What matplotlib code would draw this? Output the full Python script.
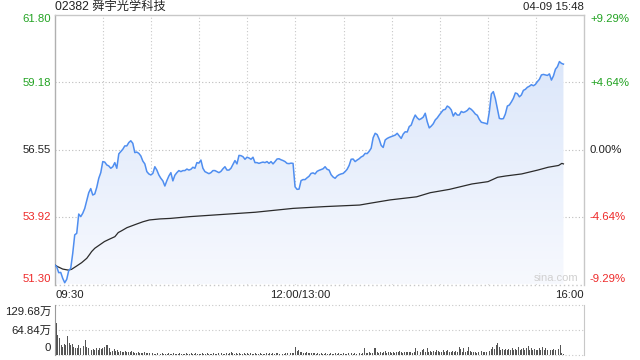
import numpy as np
import matplotlib
matplotlib.use("Agg")
import matplotlib.pyplot as plt
from matplotlib.colors import LinearSegmentedColormap
from matplotlib.patches import Polygon

plt.rcParams['font.family'] = ['Liberation Sans', 'Noto Sans CJK SC', 'DejaVu Sans']

title = "02382 舜宇光学科技"
stamp = "04-09 15:48"
prev_close = 56.55
price_ticks = [61.80, 59.18, 56.55, 53.92, 51.30]
pct_ticks = ["+9.29%", "+4.64%", "0.00%", "-4.64%", "-9.29%"]
time_labels = ["09:30", "12:00/13:00", "16:00"]
vol_ticks = [129.68, 64.84, 0]
vol_tick_labels = ["129.68万", "64.84万", "0"]

price = [
    52.06, 51.99, 51.76, 51.77, 51.54, 51.37, 51.50, 51.84, 51.93, 52.51, 53.23, 53.29,
    54.04, 53.94, 54.07, 54.26, 54.56, 54.87, 55.03, 54.78, 54.82, 55.08, 55.43, 55.65,
    56.08, 56.06, 55.95, 55.91, 55.82, 55.88, 56.04, 55.82, 56.38, 56.47, 56.56, 56.69,
    56.69, 56.82, 56.89, 56.79, 56.43, 56.45, 56.40, 56.30, 56.10, 55.99, 55.69, 55.60,
    55.56, 55.62, 55.88, 55.75, 55.56, 55.43, 55.33, 55.13, 55.34, 55.52, 55.65, 55.33,
    55.55, 55.65, 55.73, 55.69, 55.73, 55.73, 55.79, 55.75,
    55.78, 55.86, 55.82, 56.04, 56.02, 56.14, 55.82, 55.69, 55.65, 55.61, 55.65, 55.73,
    55.73, 55.69, 55.65, 55.70, 55.80, 55.88, 55.75, 55.75, 55.82, 55.97, 56.12, 55.99,
    56.32, 56.31, 56.27, 56.17, 56.25, 56.22, 56.17, 56.25, 56.04, 56.04, 56.01, 56.04,
    56.06, 56.04, 56.08, 56.01, 56.08, 55.99, 56.08, 56.18, 56.19, 56.15, 56.12, 56.08,
    56.01, 56.00, 56.02, 56.01, 55.10, 55.00, 55.01, 55.34, 55.38, 55.38, 55.45, 55.51,
    55.62, 55.64, 55.60, 55.70, 55.74, 55.77, 55.80,
    55.88, 55.78, 55.75, 55.57, 55.48, 55.43, 55.52, 55.57, 55.60, 55.62, 55.69, 55.78,
    55.93, 56.17, 56.18, 56.08, 56.14, 56.19, 56.26, 56.30, 56.40, 56.39, 56.48, 56.60,
    57.01, 57.18, 57.13, 56.95, 56.71, 56.63, 56.92, 56.98, 57.02, 57.05, 57.08, 57.11,
    57.18, 57.08, 56.98, 57.15, 57.24, 57.23, 57.44, 57.50, 57.72, 57.89, 57.78, 57.71,
    57.75, 57.81, 57.96, 57.63, 57.39, 57.46, 57.55, 57.70, 57.78, 57.89, 57.99, 58.09,
    58.11, 58.24, 58.19, 58.09, 57.85, 57.98, 57.89, 57.89,
    58.03, 57.99, 58.02, 58.07, 58.16, 58.11, 58.03, 57.93, 57.88, 57.72, 57.61, 57.59,
    57.57, 57.54, 58.02, 58.71, 58.80, 58.53, 58.15, 57.76, 57.74, 57.75, 57.93, 58.24,
    58.28, 58.40, 58.54, 58.75, 58.72, 58.60, 58.67, 58.85, 58.89, 58.97, 59.01, 59.07,
    59.03, 59.08, 59.19, 59.28, 59.45, 59.47, 59.45, 59.43, 59.49, 59.25, 59.41, 59.67,
    59.77, 59.97, 59.90, 59.87,
]
price_end_minute = 317

avg_minutes = [0, 2, 5, 8.5, 10.5, 13.7, 16.8, 20, 22, 23, 25, 28, 31, 34, 37.5, 39.6,
               41.7, 45, 48, 51, 55, 59, 65.5, 72, 84.4, 125, 148.5, 168.4, 190, 196.5,
               209, 225.5, 234, 246, 260, 270, 276, 281, 291, 297, 301, 307.5, 314, 316, 317]
avg_price = [52.06, 51.99, 51.90, 51.86, 51.89, 52.02, 52.15, 52.32, 52.49, 52.58, 52.71,
             52.84, 52.97, 53.06, 53.16, 53.32, 53.39, 53.51, 53.58, 53.65, 53.74, 53.81,
             53.85, 53.87, 53.94, 54.11, 54.26, 54.33, 54.39, 54.46, 54.59, 54.71, 54.87,
             55.00, 55.21, 55.30, 55.47, 55.52, 55.60, 55.69, 55.75, 55.86, 55.93, 56.01, 55.99]

# per-minute volume (万), minute 0 = 09:30
volume = [
    129.7, 82, 52, 43, 26, 22, 28, 26, 49, 30,
    26, 28, 22, 19, 17, 26, 17, 28, 24, 39,
    22, 17, 16, 13, 16, 13, 17, 14, 17, 15,
    19, 22, 26, 26, 19, 9, 10, 16, 10, 12,
    9, 10, 7, 9, 10, 7, 8, 9, 11, 8,
    6, 5, 7, 4, 6, 5, 8, 4, 5, 6,
    3, 4, 2, 3, 5, 3, 2, 4, 3, 2,
    3, 4, 2, 3, 5, 2, 3, 2, 4, 3,
    2, 3, 4, 2, 3, 6, 3, 2, 4, 3,
    2, 3, 5, 3, 2, 4, 3, 2, 3, 4,
    3, 2, 4, 3, 5, 3, 2, 4, 3, 6,
    8, 4, 3, 5, 3, 4, 2, 3, 4, 3,
    5, 3, 4, 2, 3, 4, 3, 2, 4, 3,
    2, 3, 4, 3, 5, 3, 4, 2, 6, 4,
    3, 4, 2, 3, 5, 4, 3, 6, 4, 5,
    22, 10, 12, 8, 9, 6, 5, 8, 4, 6,
    5, 4, 6, 3, 5, 3, 4, 2, 3, 5,
    3, 2, 4, 3, 2, 4, 3, 5, 2, 3,
    4, 3, 2, 4, 3, 5, 3, 4, 3, 2,
    4, 3, 4, 17, 6, 5, 8, 4, 6, 17,
    19, 9, 5, 7, 6, 8, 10, 6, 7, 9,
    5, 8, 6, 9, 7, 10, 8, 6, 9, 7,
    8, 7, 9, 6, 8, 17, 10, 13, 9, 12,
    15, 9, 17, 8, 10, 9, 11, 8, 12, 10,
    7, 9, 12, 8, 10, 13, 9, 8, 11, 9,
    10, 8, 22, 15, 9, 17, 8, 10, 22, 10,
    7, 9, 8, 6, 9, 8, 10, 7, 8, 9,
    8, 10, 15, 22, 16, 26, 30, 22, 14, 15,
    12, 15, 14, 16, 13, 17, 14, 16, 13, 22,
    12, 15, 17, 14, 19, 24, 14, 17, 12, 15,
    13, 14, 17, 12, 22, 14, 19, 13, 15, 14,
    13, 15, 14, 13, 15, 26, 4, 3,
]

minutes = np.linspace(0, price_end_minute, len(price))
vol_minutes = np.arange(len(volume))

W, H = 640, 360
fig = plt.figure(figsize=(6.4, 3.6), dpi=100)

def fx(px):
    return px / W

def fy(py):
    return 1 - py / H

L, R = 54.7, 584.3
T, B = 14.5, 284.5
ax = fig.add_axes([fx(L), fy(B), fx(R - L), (B - T) / H])
ax.set_xlim(0, 330)
ax.set_ylim(51.30, 61.80)

grid_c = "#c8c8c8"
for k in range(1, 11):
    ax.axvline(k * 30, color=grid_c, lw=0.8, ls=(0, (1, 2)), zorder=1)
for v in price_ticks[1:4]:
    ax.axhline(v, color="#bdbdbd", lw=0.8, ls=(0, (1, 2)), zorder=1)
ax.axhline(51.30, color=grid_c, lw=1.0, ls=(0, (1, 2)), zorder=1, clip_on=False)

# gradient fill under price
cmap = LinearSegmentedColormap.from_list("g", ["#f7f9fe", "#d6e3f9"])
grad = np.linspace(0, 1, 256).reshape(-1, 1)
im = ax.imshow(grad, extent=[0, 330, 51.30, 61.80], origin="lower", aspect="auto",
               cmap=cmap, zorder=2)
poly_pts = np.column_stack([np.r_[minutes, minutes[-1], minutes[0]],
                            np.r_[price, 51.30, 51.30]])
poly = Polygon(poly_pts, closed=True, transform=ax.transData, facecolor="none", edgecolor="none")
ax.add_patch(poly)
im.set_clip_path(poly)

ax.plot(minutes, price, color="#4f8ef0", lw=1.1, zorder=4)
ax.plot(avg_minutes, avg_price, color="#2b2b2b", lw=0.9, zorder=3)

for s in ["left", "top", "right"]:
    ax.spines[s].set_color("#c8c8c8")
    ax.spines[s].set_linewidth(1.0)
ax.spines["left"].set_color("#b0b0b0")
ax.spines["bottom"].set_visible(False)
ax.set_xticks([])
ax.set_yticks([])

fs = 8.2
green = "#22a322"
red = "#ee2a2a"
cols = [green, green, "#222222", red, red]
label_y = [19.5, 83, 149.5, 217, 279]
for v, lab, c, py in zip(price_ticks, pct_ticks, cols, label_y):
    fig.text(fx(51), fy(py), f"{v:.2f}", ha="right", va="center", fontsize=fs, color=c)
    fig.text(fx(590), fy(py), lab, ha="left", va="center", fontsize=fs, color=c)

fig.text(fx(55), fy(7), title, ha="left", va="center", fontsize=8.8, color="#222222")
fig.text(fx(584), fy(7), stamp, ha="right", va="center", fontsize=fs, color="#222222")

fig.text(fx(55), fy(294.5), time_labels[0], ha="left", va="center", fontsize=fs, color="#222222")
fig.text(fx(300), fy(294.5), time_labels[1], ha="center", va="center", fontsize=fs, color="#222222")
fig.text(fx(584), fy(294.5), time_labels[2], ha="right", va="center", fontsize=fs, color="#222222")
fig.text(fx(578), fy(278), "sina.com", ha="right", va="center", fontsize=8, color="#d0d0d0")

# volume panel
VT, VB = 305, 355
vax = fig.add_axes([fx(L), fy(VB), fx(R - L), (VB - VT) / H])
vax.set_xlim(0, 330)
vax.set_ylim(0, vol_ticks[0])
vax.bar(vol_minutes, volume, width=0.6, color="#555555", zorder=3)
for v in vol_ticks:
    vax.axhline(v, color=grid_c, lw=0.8, ls=(0, (1, 2)), zorder=1, clip_on=False)
vax.spines["top"].set_visible(False)
vax.spines["bottom"].set_visible(False)
vax.spines["left"].set_color("#9a9a9a")
vax.spines["right"].set_color("#c8c8c8")
vax.set_xticks([])
vax.set_yticks([])
for lab, py in zip(vol_tick_labels, [312, 330.5, 348]):
    fig.text(fx(51), fy(py), lab, ha="right", va="center", fontsize=fs, color="#222222")

fig.savefig("out.png", dpi=100)
